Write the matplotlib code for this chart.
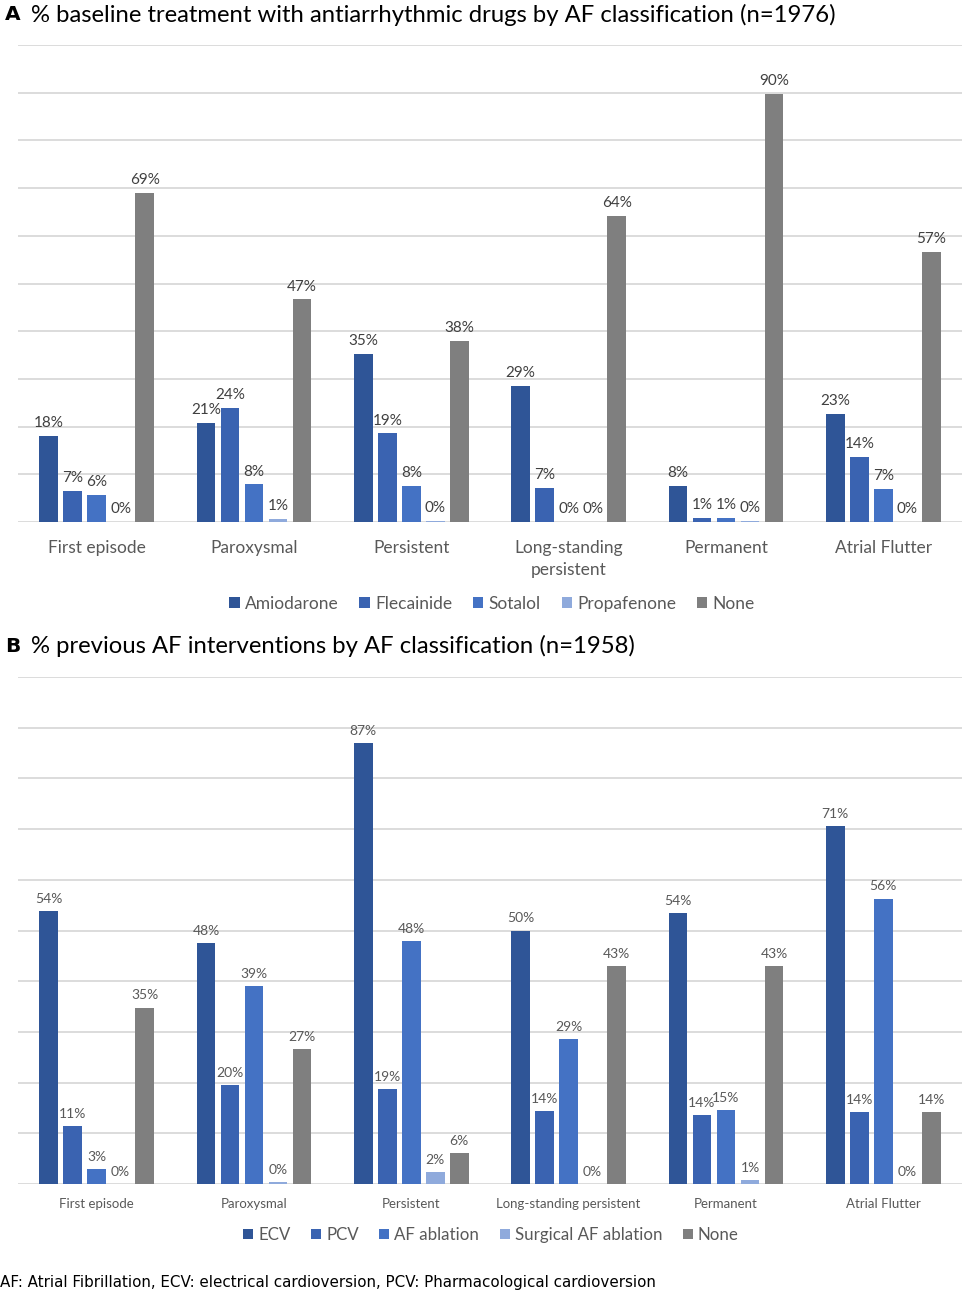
import numpy as np
import matplotlib
matplotlib.use("Agg")
import matplotlib.pyplot as plt

plt.rcParams['font.family'] = ['Lato', 'DejaVu Sans']

# данные
categories_a = ["First episode", "Paroxysmal", "Persistent", "Long-standing\npersistent",
                "Permanent", "Atrial Flutter"]
series_a = ["Amiodarone", "Flecainide", "Sotalol", "Propafenone", "None"]
amiodarone = [18.0, 20.8, 35.2, 28.6, 7.6, 22.6]
flecainide = [6.6, 24.0, 18.6, 7.1, 0.8, 13.6]
sotalol = [5.7, 7.9, 7.6, 0.0, 0.8, 6.9]
propafenone = [0.0, 0.6, 0.3, 0.0, 0.3, 0.0]
none_a = [69.0, 46.7, 37.9, 64.2, 89.8, 56.6]

categories_b = ["First episode", "Paroxysmal", "Persistent", "Long-standing persistent",
                "Permanent", "Atrial Flutter"]
series_b = ["ECV", "PCV", "AF ablation", "Surgical AF ablation", "None"]
ecv = [53.9, 47.6, 87.0, 50.0, 53.5, 70.6]
pcv = [11.4, 19.5, 18.7, 14.4, 13.6, 14.2]
af_ablation = [3.0, 39.0, 48.0, 28.6, 14.6, 56.3]
surgical = [0.0, 0.4, 2.4, 0.0, 0.8, 0.0]
none_b = [34.8, 26.6, 6.1, 42.9, 42.9, 14.2]

colors = ["#2F5597", "#3A63B1", "#4472C4", "#8FAADC", "#7F7F7F"]
grid_c = "#D9D9D9"
lab_c = "#595959"

fig = plt.figure(figsize=(9.72, 12.95), dpi=100)
ax_a = fig.add_axes([18 / 972, 1 - 522 / 1295, 944 / 972, 477 / 1295])
ax_b = fig.add_axes([18 / 972, 1 - 1184 / 1295, 944 / 972, 507 / 1295])

step_w = 0.1526
bar_w = 0.118


def draw_panel(ax, cats, names, data, tick_size, val_size, val_col, pad):
    x = np.arange(len(cats))
    handles = []
    for k, vals in enumerate(data):
        pos = x + (k - 2) * step_w
        bars = ax.bar(pos, vals, width=bar_w, color=colors[k], label=names[k], zorder=3)
        handles.append(bars)
        for p, v in zip(pos, vals):
            ax.text(p, v + 1.2, f"{v:.0f}%", ha='center', va='bottom',
                    fontsize=val_size, color=val_col, zorder=4)
    ax.set_xlim(-0.5, len(cats) - 0.5)
    ax.set_ylim(0, 100)
    ax.set_yticks(np.arange(0, 101, 10))
    ax.yaxis.grid(True, color=grid_c, lw=1.3, zorder=0)
    ax.set_yticklabels([])
    ax.tick_params(axis='y', length=0)
    ax.tick_params(axis='x', length=0, pad=pad)
    ax.set_xticks(x)
    ax.set_xticklabels(cats, fontsize=tick_size, color=lab_c, linespacing=1.45)
    for s in ax.spines.values():
        s.set_visible(False)
    return handles


h_a = draw_panel(ax_a, categories_a, series_a,
                 [amiodarone, flecainide, sotalol, propafenone, none_a], 12.5, 11, "#404040", 13)
h_b = draw_panel(ax_b, categories_b, series_b,
                 [ecv, pcv, af_ablation, surgical, none_b], 9.5, 10, lab_c, 10)

fig.legend(h_a, series_a, loc='center', bbox_to_anchor=(492 / 972, 1 - 604 / 1295), ncol=5,
           frameon=False, fontsize=12.5, handlelength=0.6, handleheight=0.6, handletextpad=0.3,
           columnspacing=1.2, labelcolor=lab_c)
fig.legend(h_b, series_b, loc='center', bbox_to_anchor=(491 / 972, 1 - 1235 / 1295), ncol=5,
           frameon=False, fontsize=12.2, handlelength=0.6, handleheight=0.6, handletextpad=0.3,
           columnspacing=1.2, labelcolor=lab_c)

# заголовки
fig.text(5 / 972, 1 - 15 / 1295, "A", fontsize=14.5, fontweight='bold', va='center',
         family=['DejaVu Sans'])
fig.text(31 / 972, 1 - 15 / 1295, "% baseline treatment with antiarrhythmic drugs by AF classification (n=1976)",
         fontsize=17.2, va='center')
fig.text(5 / 972, 1 - 646 / 1295, "B", fontsize=14.5, fontweight='bold', va='center',
         family=['DejaVu Sans'])
fig.text(31 / 972, 1 - 646 / 1295, "% previous AF interventions by AF classification (n=1958)",
         fontsize=17.2, va='center')

fig.text(0, 1 - 1282 / 1295,
         "AF: Atrial Fibrillation, ECV: electrical cardioversion, PCV: Pharmacological cardioversion",
         fontsize=10.9, va='center', family=['DejaVu Sans'])

fig.savefig("out.png", dpi=100)
